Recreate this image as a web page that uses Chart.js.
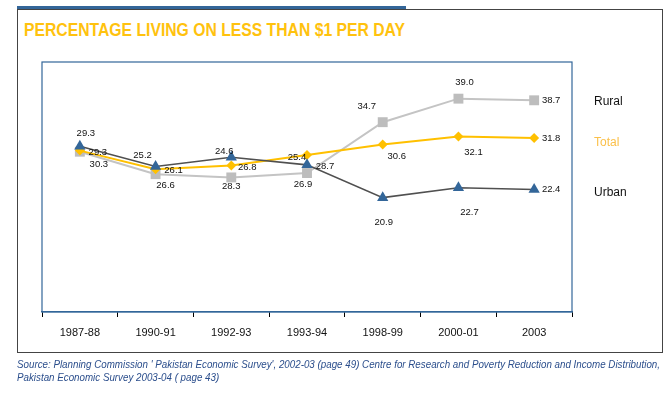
<!DOCTYPE html>
<html>
<head>
<meta charset="utf-8">
<script src="https://cdn.jsdelivr.net/npm/chart.js@4/dist/chart.umd.min.js"></script>
<style>
  body { margin: 0; background: #fff; }
  #wrap { position: relative; width: 666px; height: 399px; overflow: hidden; font-family: "Liberation Sans", Arial, sans-serif; }
  #bar { position: absolute; left: 17px; top: 6px; width: 389px; height: 3px; background: #336699; }
  #frame { position: absolute; left: 17px; top: 9px; width: 646px; height: 344px; border: 1px solid #444; border-width: 1px 1.5px 1.5px 1.5px; box-sizing: border-box; }
  #title { position: absolute; left: 24px; top: 20px; font: bold 18px "Liberation Sans Narrow", "Liberation Sans", sans-serif; color: #ffc20e; white-space: nowrap; transform-origin: 0 0; }
  .src { position: absolute; left: 17px; font: italic 10px "Liberation Sans", sans-serif; color: #2b4e8c; white-space: nowrap; transform-origin: 0 0; }
  canvas { position: absolute; left: 0; top: 0; }
</style>
</head>
<body>
<div id="wrap">
  <div id="bar"></div>
  <div id="frame"></div>
  <div id="title">PERCENTAGE LIVING ON LESS THAN $1 PER DAY</div>
  <canvas id="povertyChart" width="666" height="399"></canvas>
  <div class="src" id="src1" style="top:359px">Source: Planning Commission ' Pakistan Economic Survey', 2002-03 (page 49) Centre for Research and Poverty Reduction and Income Distribution,</div>
  <div class="src" id="src2" style="top:372px">Pakistan Economic Survey 2003-04 ( page 43)</div>
</div>
<script>
// Categorias (anos)
const years = ["1987-88", "1990-91", "1992-93", "1993-94", "1998-99", "2000-01", "2003"];

// Valores como desenhados no gráfico
const urbanValues = [30.3, 26.6, 28.3, 26.9, 20.9, 22.7, 22.4];
const ruralValues = [29.3, 25.2, 24.6, 25.4, 34.7, 39.0, 38.7];
const totalValues = [29.5, 26.1, 26.8, 28.7, 30.6, 32.1, 31.8];

// Rótulos impressos junto aos pontos
const urbanLabels = ["29.3", "25.2", "24.6", "25.4", "20.9", "22.7", "22.4"];
const ruralLabels = ["30.3", "26.6", "28.3", "26.9", "34.7", "39.0", "38.7"];
const totalLabels = ["29.3", "26.1", "26.8", "28.7", "30.6", "32.1", "31.8"];

// deslocamento dos rótulos em relação ao ponto
const urbanOffsets = [[6, -13], [-13, -11], [-7, -6], [-10, -7], [1, 25], [11, 25], [17, 0]];
const ruralOffsets = [[19, 13], [10, 11], [0, 9], [-4, 11], [-16, -16], [6, -16], [17, 0]];
const totalOffsets = [[18, 2], [18, 1], [16, 2], [18, 11], [14, 12], [15, 16], [17, 0]];

// ajusta largura dos textos
function fitWidth(id, target) {
  const el = document.getElementById(id);
  const w = el.getBoundingClientRect().width;
  el.style.transform = 'scaleX(' + (target / w) + ')';
}
fitWidth('title', 381);
fitWidth('src1', 643);
const src2 = document.getElementById('src2');
src2.style.transform = document.getElementById('src1').style.transform;

const plotBorder = {
  id: 'plotBorder',
  beforeDatasetsDraw(chart) {
    const { ctx, chartArea: a } = chart;
    ctx.save();
    ctx.strokeStyle = '#336699';
    ctx.lineWidth = 1.2;
    ctx.strokeRect(a.left, a.top, a.right - a.left, a.bottom - a.top);
    ctx.restore();
  }
};

const pointLabels = {
  id: 'pointLabels',
  afterDatasetsDraw(chart) {
    const ctx = chart.ctx;
    ctx.save();
    ctx.font = '9.5px "Liberation Sans", sans-serif';
    ctx.fillStyle = '#111';
    ctx.textAlign = 'center';
    ctx.textBaseline = 'middle';
    chart.data.datasets.forEach((ds, i) => {
      chart.getDatasetMeta(i).data.forEach((pt, j) => {
        const off = ds.labelOffsets[j];
        ctx.fillText(ds.pointText[j], pt.x + off[0], pt.y + off[1]);
      });
    });
    ctx.restore();
  }
};

const sideLegend = {
  id: 'sideLegend',
  afterDraw(chart) {
    const ctx = chart.ctx;
    const a = chart.chartArea;
    ctx.save();
    ctx.font = '12px "Liberation Sans", sans-serif';
    ctx.textBaseline = 'middle';
    ctx.textAlign = 'left';
    chart.data.datasets.forEach((ds, i) => {
      const meta = chart.getDatasetMeta(i);
      const last = meta.data[meta.data.length - 1];
      ctx.fillStyle = ds.legendColor;
      ctx.fillText(ds.label, a.right + 22, last.y + ds.legendDy);
    });
    ctx.restore();
  }
};

new Chart(document.getElementById('povertyChart'), {
  type: 'line',
  data: {
    labels: years,
    datasets: [
      {
        label: 'Urban',
        data: urbanValues,
        pointText: urbanLabels,
        labelOffsets: urbanOffsets,
        legendColor: '#111',
        legendDy: 3,
        borderColor: '#505050',
        borderWidth: 1.6,
        pointStyle: 'triangle',
        pointRadius: 6.5,
        pointBackgroundColor: '#336699',
        pointBorderColor: '#336699',
        pointBorderWidth: 0,
        tension: 0
      },
      {
        label: 'Total',
        data: totalValues,
        pointText: totalLabels,
        labelOffsets: totalOffsets,
        legendColor: '#fbc04a',
        legendDy: 5,
        borderColor: '#ffc000',
        borderWidth: 2,
        pointStyle: 'rectRot',
        pointRadius: 5,
        pointBackgroundColor: '#ffc000',
        pointBorderColor: '#ffc000',
        pointBorderWidth: 0,
        tension: 0
      },
      {
        label: 'Rural',
        data: ruralValues,
        pointText: ruralLabels,
        labelOffsets: ruralOffsets,
        legendColor: '#111',
        legendDy: 1,
        borderColor: '#c4c4c4',
        borderWidth: 2,
        pointStyle: 'rect',
        pointRadius: 7,
        pointBackgroundColor: '#bdbdbd',
        pointBorderColor: '#bdbdbd',
        pointBorderWidth: 0,
        tension: 0
      }
    ]
  },
  options: {
    responsive: false,
    devicePixelRatio: 1,
    animation: false,
    layout: { padding: { left: 42, right: 94, top: 62, bottom: 0 } },
    plugins: {
      legend: { display: false },
      tooltip: { enabled: false }
    },
    scales: {
      x: {
        offset: true,
        grid: { display: true, drawOnChartArea: false, offset: true, tickLength: 5, color: '#000', lineWidth: 1 },
        border: { display: true, color: '#336699', width: 1.2 },
        ticks: { color: '#111', font: { family: '"Liberation Sans", sans-serif', size: 11 }, padding: 9, maxRotation: 0 },
        afterFit(scale) { scale.height = 87; }
      },
      y: {
        display: false,
        min: 0,
        max: 45.7
      }
    }
  },
  plugins: [plotBorder, pointLabels, sideLegend]
});
</script>
</body>
</html>
